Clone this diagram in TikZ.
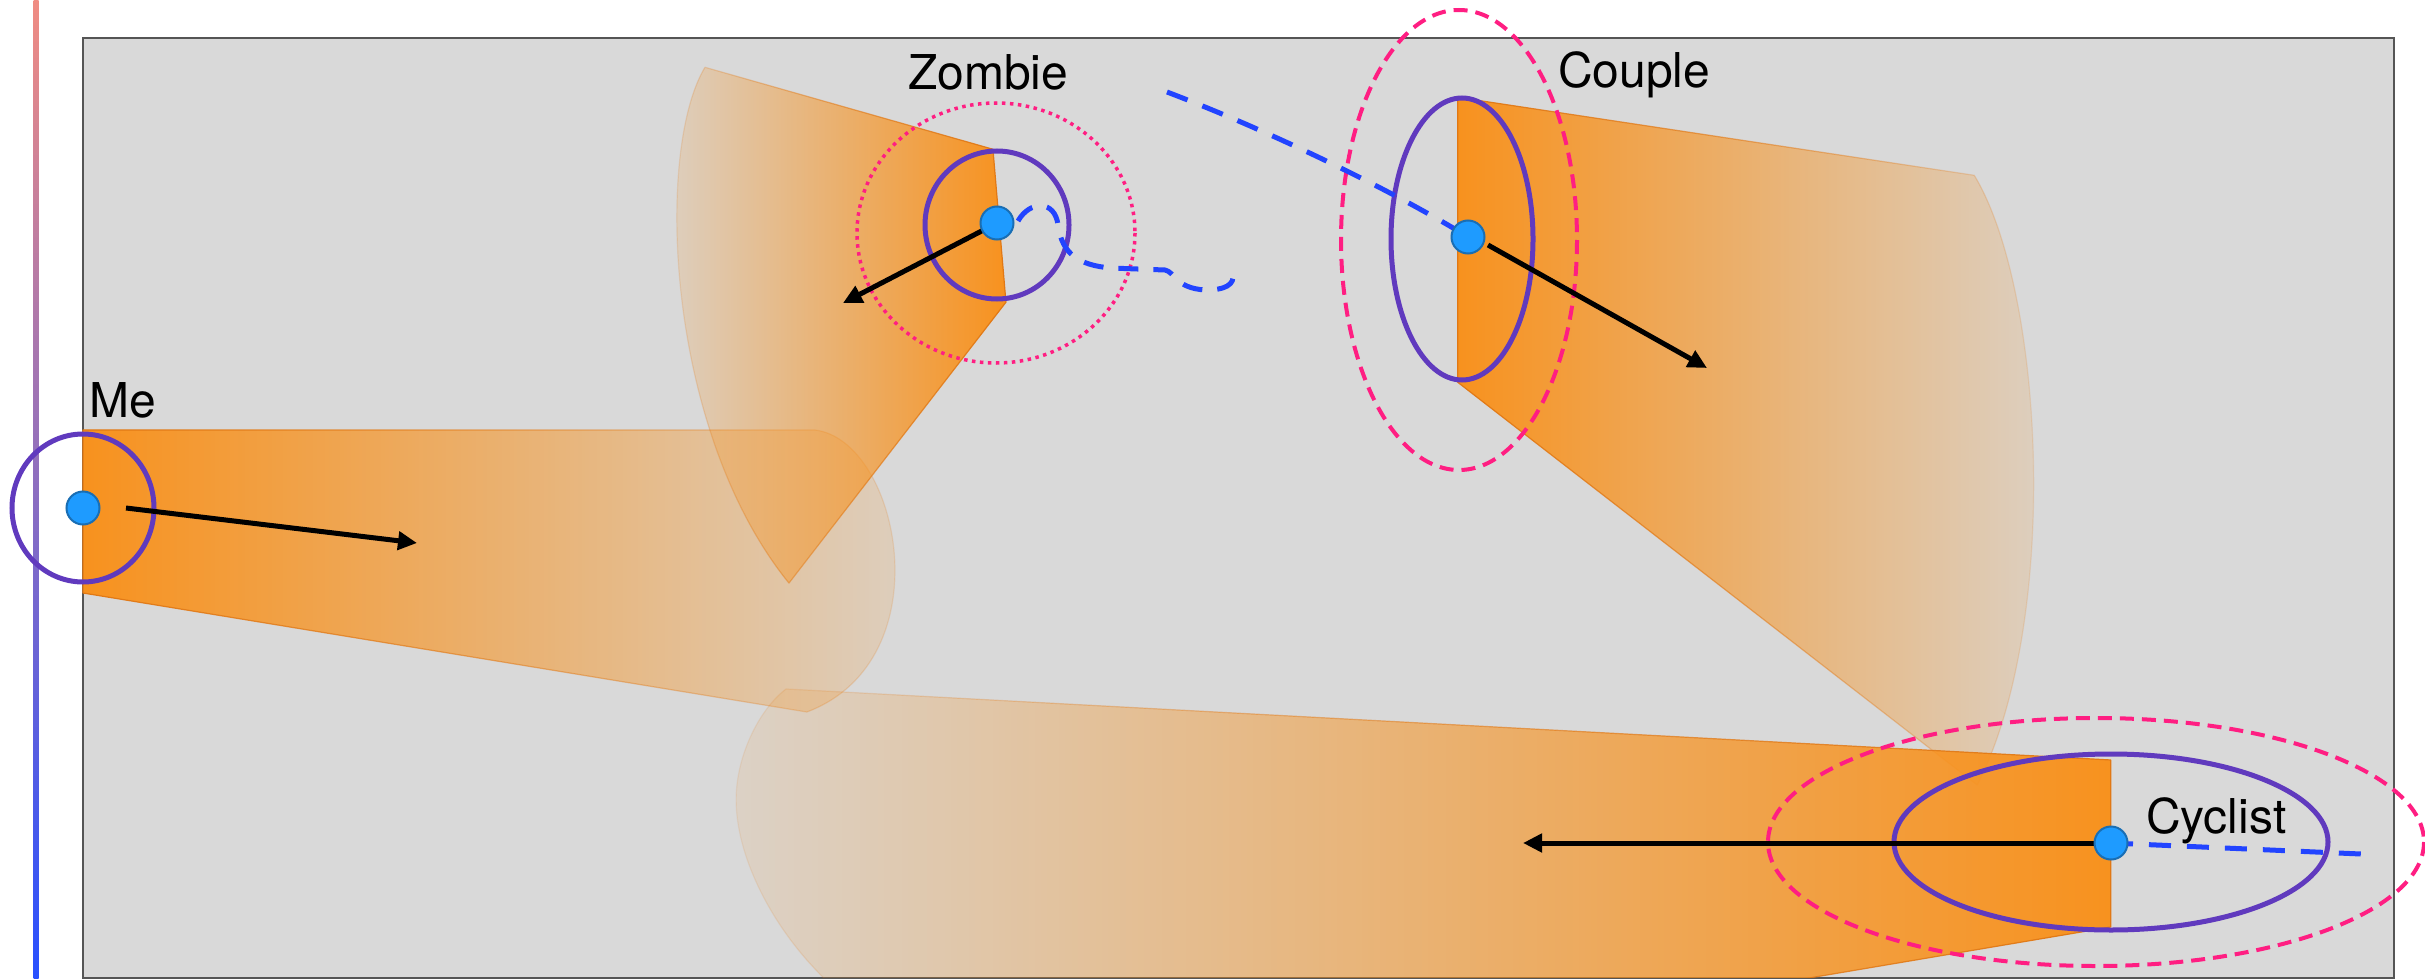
\documentclass[tikz,border=0pt]{standalone}
\usepackage{fontspec}
\setmainfont{TeX Gyre Heros}
\usetikzlibrary{arrows.meta,fadings}
\definecolor{bgGray}{RGB}{217,217,217}
\definecolor{rectEdge}{RGB}{85,85,85}
\definecolor{coneOrange}{RGB}{248,146,30}
\definecolor{coneEdge}{RGB}{225,120,20}
\definecolor{ringPurple}{RGB}{96,58,190}
\definecolor{zonePink}{RGB}{255,30,130}
\definecolor{pathBlue}{RGB}{34,68,255}
\definecolor{dotBlue}{RGB}{30,155,255}
\definecolor{dotEdge}{RGB}{25,110,180}
\definecolor{barTop}{RGB}{240,140,130}
\definecolor{barMid}{RGB}{165,115,225}
\definecolor{barBot}{RGB}{40,80,255}
\tikzfading[name=fadeToRight, left color=transparent!0, right color=transparent!90]
\tikzfading[name=fadeToLeft, left color=transparent!90, right color=transparent!0]
\begin{document}
\begin{tikzpicture}[x=1pt,y=-1pt,
  cone/.style={fill=coneOrange, draw=coneEdge, line width=1.2pt, line join=round, fit fading=true},
  ring/.style={draw=ringPurple, line width=5pt},
  zonedot/.style={draw=zonePink, line width=3.5pt, dash pattern=on 3.5pt off 4.5pt},
  zonedash/.style={draw=zonePink, line width=4pt, dash pattern=on 14pt off 8pt},
  trail/.style={draw=pathBlue, line width=5pt, dash pattern=on 22pt off 16pt},
  heading/.style={draw=black, line width=5pt, -{Triangle[length=19pt,width=18pt]}},
  agent/.style={circle, fill=dotBlue, draw=dotEdge, line width=2pt, minimum size=33pt, inner sep=0pt},
  lbl/.style={font=\fontsize{48}{58}\selectfont, inner sep=0pt, text=black}]
\useasboundingbox (0,0) rectangle (2425,979);

% gradient bar on the left
\shade[top color=barTop, middle color=barMid, bottom color=barBot] (33.5,0) rectangle (38.5,979);

% background panel
\path[fill=bgGray, draw=rectEdge, line width=2.5pt] (83,38) rectangle (2394,978);

% cones
\path[cone, path fading=fadeToRight] (83,430) -- (815,430)
  .. controls (900,440) and (945,660) .. (807,712) -- (83,593) -- cycle;
\path[cone, path fading=fadeToLeft] (993,149) -- (705,67)
  .. controls (655,150) and (665,430) .. (789,583) -- (1006,302) -- cycle;
\path[cone, path fading=fadeToRight] (1458,97) -- (1975,175)
  .. controls (2045,290) and (2062,620) .. (1978,785) -- (1458,382) -- cycle;
\begin{scope}
  \clip (83,38) rectangle (2394,977);
  \path[cone, path fading=fadeToLeft] (2116,760) -- (788,689)
    .. controls (760,710) and (736,760) .. (738,805)
    .. controls (740,860) and (775,930) .. (830,982)
    -- (1790,982) -- (2116,927) -- cycle;
\end{scope}

% zones (pink)
\draw[zonedot] (996,233) ellipse [x radius=139, y radius=130];
\draw[zonedash] (1459,240) ellipse [x radius=118, y radius=230];
\draw[zonedash] (2096,842) ellipse [x radius=328, y radius=124];

% personal rings (purple)
\draw[ring] (83,508) ellipse [x radius=71, y radius=74];
\draw[ring] (997,225) ellipse [x radius=72, y radius=74];
\draw[ring] (1462,239) ellipse [x radius=71, y radius=141];
\draw[ring] (2111,842) ellipse [x radius=217, y radius=88];

% agents
\coordinate (meC) at (83,508);
\coordinate (zombieC) at (997,223);
\coordinate (coupleC) at (1468,237);
\coordinate (cyclistC) at (2111,843);

% trails (blue dashed)
\coordinate (coupleTrailStart) at (1167,92);
\draw[trail] (coupleTrailStart) .. controls (1280,135) and (1400,195) .. (coupleC);
\coordinate (zombieTrailStart) at (1018,221);
\coordinate (zombieTrailEnd) at (1233,273);
\draw[trail, dash pattern=on 20pt off 15pt] (zombieTrailStart) .. controls (1030,200) and (1055,200) .. (1058,225)
  .. controls (1062,255) and (1080,265) .. (1110,268) -- (1165,270)
  .. controls (1175,272) and (1175,288) .. (1205,290)
  .. controls (1225,290) and (1235,285) .. (zombieTrailEnd);
\coordinate (cyclistTrailEnd) at (2361,854);
\draw[trail] (cyclistC) -- (cyclistTrailEnd);

% headings (black arrows)
\coordinate (meS) at (126,508);
\coordinate (meT) at (417,543);
\coordinate (zombieT) at (843,303);
\coordinate (coupleS) at (1488,245);
\coordinate (coupleT) at (1707,368);
\coordinate (cyclistT) at (1523,843);
\draw[heading] (meS) -- (meT);
\draw[heading] (zombieC) -- (zombieT);
\draw[heading] (coupleS) -- (coupleT);
\draw[heading] (cyclistC) -- (cyclistT);

% dots
\node[agent] (me) at (meC) {};
\node[agent] (zombie) at (zombieC) {};
\node[agent] (couple) at (coupleC) {};
\node[agent] (cyclist) at (cyclistC) {};

% labels
\node[lbl, anchor=base west] (meLabel) at (89,417) {Me};
\node[lbl, anchor=base west] (zombieLabel) at (908,90) {Zombie};
\node[lbl, anchor=base west] (coupleLabel) at (1558,88) {Couple};
\node[lbl, anchor=base west] (cyclistLabel) at (2146,833) {Cyclist};
\end{tikzpicture}
\end{document}
